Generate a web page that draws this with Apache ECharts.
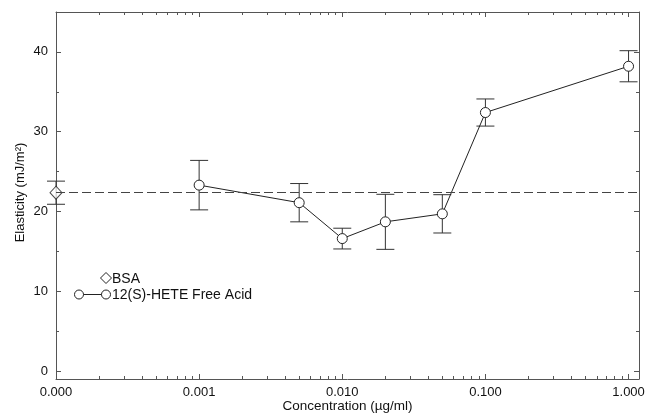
<!DOCTYPE html>
<html>
<head>
<meta charset="utf-8">
<script src="https://cdn.jsdelivr.net/npm/echarts@6/dist/echarts.min.js"></script>
<style>
  html, body { margin: 0; padding: 0; background: #fff; }
  #chart { width: 646px; height: 416px; }
</style>
</head>
<body>
<div id="chart"></div>
<script>
// Surface elasticity of films versus 12(S)-HETE concentration, with BSA control.
const xTickValues = [0.0001, 0.001, 0.01, 0.1, 1];
const xTickLabels = ['0.000', '0.001', '0.010', '0.100', '1.000'];
const yTickValues = [0, 10, 20, 30, 40];
const yMinorTicks = [5, 15, 25, 35];

const seriesNames = ['BSA', '12(S)-HETE Free Acid'];

const heteConc = [0.001, 0.005, 0.01, 0.02, 0.05, 0.1, 1.0];
const heteMean = [23.3, 21.1, 16.6, 18.7, 19.7, 32.4, 38.2];
const heteErr  = [3.1, 2.4, 1.3, 3.45, 2.4, 1.7, 1.95];

// Control (no 12(S)-HETE): plotted at the origin of the log axis, labelled 0.000
const bsaConc = 0.0001;
const bsaMean = 22.35;
const bsaErr  = 1.45;

// Minor log ticks (2..9 within each decade)
const xMinorTicks = [];
for (let d = 0; d < xTickValues.length - 1; d++) {
  for (let k = 2; k <= 9; k++) xMinorTicks.push(+(k * xTickValues[d]).toPrecision(3));
}

const FONT = "'Liberation Sans', Arial, Helvetica, sans-serif";
const INK = '#222';
const AXIS = '#555';
const X_MIN = 0.0001, X_MAX = 1.183;
const Y_MIN = -1, Y_MAX = 45;

function xAxisDef(position, ticks, len, withLabels, showLine) {
  return {
    type: 'log', logBase: 10, position: position, min: X_MIN, max: X_MAX,
    axisLine: { show: showLine, onZero: false, lineStyle: { color: AXIS, width: 1 } },
    axisTick: { show: true, inside: true, length: len, customValues: ticks,
                lineStyle: { color: AXIS, width: 1 } },
    axisLabel: withLabels ? {
      show: true, customValues: xTickValues, margin: 7,
      fontFamily: FONT, fontSize: 13, color: '#111',
      formatter: function (v) {
        const i = xTickValues.findIndex(t => Math.abs(Math.log10(t) - Math.log10(v)) < 1e-6);
        return i >= 0 ? xTickLabels[i] : '';
      }
    } : { show: false },
    splitLine: { show: false },
    name: withLabels ? 'Concentration (\u00b5g/ml)' : '',
    nameLocation: 'middle', nameGap: 20, nameMoveOverlap: false,
    nameTextStyle: { fontFamily: FONT, fontSize: 13.5, color: '#111' }
  };
}

function yAxisDef(position, ticks, len, withLabels, showLine) {
  return {
    type: 'value', position: position, min: Y_MIN, max: Y_MAX,
    axisLine: { show: showLine, onZero: false, lineStyle: { color: AXIS, width: 1 } },
    axisTick: { show: true, inside: true, length: len, customValues: ticks,
                lineStyle: { color: AXIS, width: 1 } },
    axisLabel: withLabels ? {
      show: true, customValues: yTickValues, margin: 8,
      fontFamily: FONT, fontSize: 13, color: '#111'
    } : { show: false },
    splitLine: { show: false },
    name: withLabels ? 'Elasticity (mJ/m\u00b2)' : '',
    nameLocation: 'middle', nameGap: 29, nameRotate: 90, nameMoveOverlap: false,
    nameTextStyle: { fontFamily: FONT, fontSize: 13, color: '#111', padding: [0, 0, 0, 6] }
  };
}

function errorBars(params, api) {
  const x = api.value(0);
  const lo = api.coord([x, api.value(1)]);
  const hi = api.coord([x, api.value(2)]);
  const w = 9;
  const style = { stroke: '#333', lineWidth: 1 };
  return {
    type: 'group',
    children: [
      { type: 'line', shape: { x1: lo[0], y1: lo[1], x2: hi[0], y2: hi[1] }, style: style },
      { type: 'line', shape: { x1: lo[0] - w, y1: lo[1], x2: lo[0] + w, y2: lo[1] }, style: style },
      { type: 'line', shape: { x1: hi[0] - w, y1: hi[1], x2: hi[0] + w, y2: hi[1] }, style: style }
    ]
  };
}

const heteErrData = heteConc.map((c, i) => [c, heteMean[i] - heteErr[i], heteMean[i] + heteErr[i]]);
const bsaErrData = [[bsaConc, bsaMean - bsaErr, bsaMean + bsaErr]];

const chart = echarts.init(document.getElementById('chart'), null, { renderer: 'canvas' });

chart.setOption({
  animation: false,
  backgroundColor: '#fff',
  grid: { left: 56, right: 7, top: 12, bottom: 37, outerBoundsMode: 'none' },
  xAxis: [
    xAxisDef('bottom', xTickValues, 5, true, true),
    xAxisDef('bottom', xMinorTicks, 3, false, false),
    xAxisDef('top', xTickValues, 5, false, true),
    xAxisDef('top', xMinorTicks, 3, false, false)
  ],
  yAxis: [
    yAxisDef('left', yTickValues, 5, true, true),
    yAxisDef('left', yMinorTicks, 3, false, false),
    yAxisDef('right', yTickValues, 5, false, true),
    yAxisDef('right', yMinorTicks, 3, false, false)
  ],
  series: [
    {
      type: 'custom', name: 'bsa-err', renderItem: errorBars,
      data: bsaErrData, encode: { x: 0, y: [1, 2] }, z: 1, silent: true
    },
    {
      type: 'custom', name: 'hete-err', renderItem: errorBars,
      data: heteErrData, encode: { x: 0, y: [1, 2] }, z: 1, silent: true
    },
    {
      type: 'scatter', name: seriesNames[0],
      data: [[bsaConc, bsaMean]],
      symbol: 'diamond', symbolSize: [12, 13],
      itemStyle: { color: '#fff', borderColor: INK, borderWidth: 1 },
      z: 3,
      markLine: {
        silent: true, symbol: 'none',
        label: { show: false },
        lineStyle: { color: '#444', width: 1, type: [9, 4] },
        data: [{ yAxis: bsaMean }]
      }
    },
    {
      type: 'line', name: seriesNames[1],
      data: heteConc.map((c, i) => [c, heteMean[i]]),
      symbol: 'circle', symbolSize: 10, showAllSymbol: true,
      lineStyle: { color: INK, width: 1 },
      itemStyle: { color: '#fff', borderColor: INK, borderWidth: 1 },
      z: 3
    }
  ],
  graphic: [
    {
      type: 'group', left: 74, top: 272,
      children: [
        { type: 'polygon', shape: { points: [[33, 1], [38.5, 6.5], [33, 12], [27.5, 6.5]] },
          style: { fill: '#fff', stroke: INK, lineWidth: 1 } },
        { type: 'text', x: 39, y: 7.5, style: { text: seriesNames[0], font: '14px ' + FONT,
          fill: '#111', verticalAlign: 'middle' } },
        { type: 'line', shape: { x1: 6, y1: 23, x2: 33, y2: 23 },
          style: { stroke: INK, lineWidth: 1 } },
        { type: 'circle', shape: { cx: 6, cy: 23, r: 4.5 },
          style: { fill: '#fff', stroke: INK, lineWidth: 1 } },
        { type: 'circle', shape: { cx: 33, cy: 23, r: 4.5 },
          style: { fill: '#fff', stroke: INK, lineWidth: 1 } },
        { type: 'text', x: 39, y: 23.5, style: { text: seriesNames[1], font: '14px ' + FONT,
          fill: '#111', verticalAlign: 'middle' } }
      ]
    }
  ]
});
</script>
</body>
</html>
